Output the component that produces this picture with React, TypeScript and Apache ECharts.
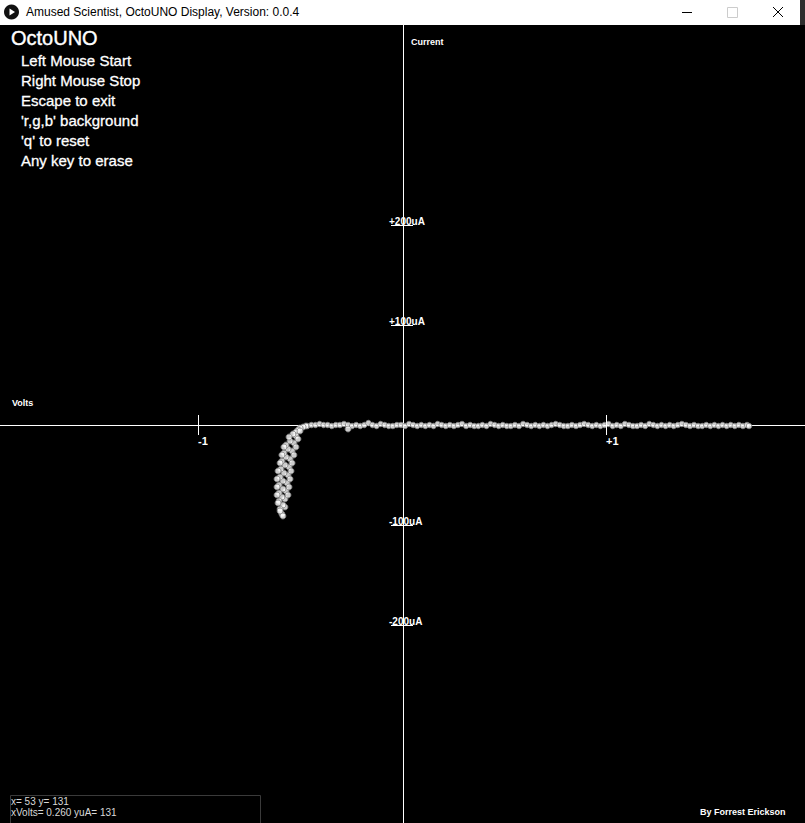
import React, { useEffect, useRef } from 'react';
import * as echarts from 'echarts';

// Forward sweep along the flat part of the I-V curve: [volts, microamps]
const flatSweep: [number, number][] = [
  [-0.47, -1], [-0.45, 0], [-0.43, 0], [-0.41, 1], [-0.39, 0], [-0.37, 0], [-0.35, -1], [-0.33, 0],
  [-0.31, 0], [-0.29, 1], [-0.27, 0], [-0.25, -1], [-0.23, 0], [-0.21, -1], [-0.19, 0], [-0.17, 2],
  [-0.15, 0], [-0.13, -1], [-0.11, 1], [-0.09, 0], [-0.07, -1], [-0.05, -1], [-0.03, 0], [-0.01, 0],
  [0.01, -1], [0.03, 1], [0.05, 0], [0.07, -1], [0.09, 0], [0.11, -1], [0.13, 0], [0.15, -1],
  [0.17, 1], [0.19, 0], [0.21, -1], [0.23, 0], [0.25, -1], [0.27, 0], [0.29, 1], [0.31, -1],
  [0.33, 0], [0.35, -1], [0.37, -1], [0.39, 0], [0.41, -1], [0.43, 1], [0.45, 0], [0.47, -1],
  [0.49, 0], [0.51, -1], [0.53, -1], [0.55, 0], [0.57, -1], [0.59, 1], [0.61, 0], [0.63, -1],
  [0.65, 0], [0.67, -1], [0.69, 0], [0.71, -1], [0.73, 0], [0.75, 1], [0.77, 0], [0.79, -1],
  [0.81, -1], [0.83, 0], [0.85, -1], [0.87, 0], [0.89, 1], [0.91, 0], [0.93, -1], [0.95, 0],
  [0.97, -1], [0.99, 0], [1.01, 1], [1.03, -1], [1.05, 0], [1.07, -1], [1.09, 1], [1.11, 0],
  [1.13, -1], [1.15, -1], [1.17, 0], [1.19, -1], [1.21, 1], [1.23, 0], [1.25, -1], [1.27, 0],
  [1.29, -1], [1.31, 0], [1.33, -1], [1.35, 0], [1.37, 1], [1.39, 0], [1.41, -1], [1.43, 0],
  [1.45, -1], [1.47, -1], [1.49, 0], [1.51, -1], [1.53, 0], [1.55, -1], [1.57, 0], [1.59, -1],
  [1.61, 0], [1.63, -1], [1.65, 0], [1.67, -1], [1.69, 0], [1.70, -1],
];

// Reverse-bias knee of the curve (several overlapping sweeps): [volts, microamps]
const kneeSweep: [number, number][] = [
  [-0.477, -1], [-0.491, -2], [-0.506, -3], [-0.516, -5], [-0.526, -7], [-0.526, -11],
  [-0.536, -18], [-0.541, -9], [-0.545, -26], [-0.555, -16], [-0.555, -34], [-0.56, -12],
  [-0.56, -42], [-0.565, -24], [-0.565, -50], [-0.57, -58], [-0.575, -20], [-0.575, -32],
  [-0.575, -66], [-0.58, -40], [-0.58, -74], [-0.58, -82], [-0.585, -28], [-0.585, -48],
  [-0.59, -56], [-0.59, -64], [-0.59, -80], [-0.595, -36], [-0.595, -72], [-0.595, -89],
  [-0.6, -44], [-0.604, -52], [-0.604, -84], [-0.609, -60], [-0.609, -68], [-0.609, -76],
  [-0.585, -22], [-0.595, -30], [-0.604, -38], [-0.614, -46], [-0.619, -54], [-0.619, -62],
  [-0.619, -70], [-0.614, -78], [-0.604, -86], [-0.59, -91],
  [-0.506, -6], [-0.516, -14], [-0.526, -22], [-0.536, -30], [-0.545, -38], [-0.55, -46],
  [-0.555, -54], [-0.56, -62], [-0.565, -70],
  [-0.27, -4],
];

const xTickValues = [-1, 1];
const xTickLabels = ['-1', '+1'];
const yTickValues = [200, 100, -100, -200];
const yTickLabels = ['+200uA', '+100uA', '-100uA', '-200uA'];

const windowTitle = 'Amused Scientist, OctoUNO Display, Version: 0.0.4';
const appTitle = 'OctoUNO';
const menuLines = [
  'Left Mouse Start',
  'Right Mouse Stop',
  'Escape to exit',
  "'r,g,b' background",
  "'q' to reset",
  'Any key to erase',
];
const statusLines = ['x= 53 y= 131', 'xVolts= 0.260 yuA= 131'];
const xAxisName = 'Volts';
const yAxisName = 'Current';
const credit = 'By Forrest Erickson';

const FONT = '"Liberation Sans", Arial, sans-serif';

export default function App() {
  const ref = useRef<HTMLDivElement>(null);

  useEffect(() => {
    document.body.style.margin = '0';
    const chart = echarts.init(ref.current!, null, { renderer: 'svg' });

    const dotStyle = { color: '#ffffff', borderColor: '#7a7a7a', borderWidth: 1 };

    const graphic: any[] = [
      // window title bar
      { type: 'rect', shape: { x: 0, y: 0, width: 805, height: 25 }, style: { fill: '#ffffff' }, z: 100 },
      { type: 'rect', shape: { x: 800, y: 0, width: 5, height: 25 }, style: { fill: '#2e2e2e' }, z: 101 },
      { type: 'circle', shape: { cx: 11.5, cy: 12, r: 7.5 }, style: { fill: '#111111' }, z: 101 },
      { type: 'polygon', shape: { points: [[9.5, 8.5], [9.5, 15.5], [15, 12]] }, style: { fill: '#ffffff' }, z: 102 },
      { type: 'text', x: 26, y: 12, style: { text: windowTitle, fill: '#000000', font: `12px ${FONT}`, textAlign: 'left', textVerticalAlign: 'middle' }, z: 101 },
      { type: 'line', shape: { x1: 682, y1: 12.5, x2: 692, y2: 12.5 }, style: { stroke: '#000000', lineWidth: 1 }, z: 101 },
      { type: 'rect', shape: { x: 727.5, y: 7.5, width: 10, height: 10 }, style: { fill: 'none', stroke: '#cccccc', lineWidth: 1 }, z: 101 },
      { type: 'line', shape: { x1: 773, y1: 7, x2: 783, y2: 17 }, style: { stroke: '#000000', lineWidth: 1 }, z: 101 },
      { type: 'line', shape: { x1: 783, y1: 7, x2: 773, y2: 17 }, style: { stroke: '#000000', lineWidth: 1 }, z: 101 },
      // app texts
      { type: 'text', x: 11, y: 38, style: { text: appTitle, fill: '#ffffff', font: `20px ${FONT}`, textAlign: 'left', textVerticalAlign: 'middle', stroke: '#ffffff', lineWidth: 0.4 }, z: 50 },
      ...menuLines.map((t, i) => ({
        type: 'text', x: 21, y: 60 + i * 20,
        style: { text: t, fill: '#ffffff', font: `15px ${FONT}`, textAlign: 'left', textVerticalAlign: 'middle', stroke: '#ffffff', lineWidth: 0.3 }, z: 50,
      })),
      { type: 'text', x: 12, y: 403, style: { text: xAxisName, fill: '#ffffff', font: `bold 9px ${FONT}`, textAlign: 'left', textVerticalAlign: 'middle' }, z: 50 },
      { type: 'text', x: 411, y: 42, style: { text: yAxisName, fill: '#ffffff', font: `bold 9px ${FONT}`, textAlign: 'left', textVerticalAlign: 'middle' }, z: 50 },
      // status box
      { type: 'rect', shape: { x: 10.5, y: 795.5, width: 250, height: 40 }, style: { fill: 'none', stroke: '#3a3a3a', lineWidth: 1 }, z: 50 },
      ...statusLines.map((t, i) => ({
        type: 'text', x: 11, y: 801.5 + i * 10.5,
        style: { text: t, fill: '#d8d8d8', font: `10px ${FONT}`, textAlign: 'left', textVerticalAlign: 'middle' }, z: 51,
      })),
      { type: 'text', x: 700, y: 811.5, style: { text: credit, fill: '#ffffff', font: `bold 9px ${FONT}`, textAlign: 'left', textVerticalAlign: 'middle' }, z: 50 },
    ];

    chart.setOption({
      animation: false,
      backgroundColor: '#000000',
      grid: { left: 0, top: 25, width: 805, height: 798 },
      xAxis: {
        type: 'value', min: -1.98, max: 1.975,
        axisLine: { show: true, onZero: true, lineStyle: { color: '#ffffff', width: 1 } },
        axisTick: { show: false }, axisLabel: { show: false }, splitLine: { show: false },
      },
      yAxis: {
        type: 'value', min: -398, max: 400,
        axisLine: { show: true, onZero: true, lineStyle: { color: '#ffffff', width: 1 } },
        axisTick: { show: false }, axisLabel: { show: false }, splitLine: { show: false },
      },
      graphic,
      series: [
        {
          type: 'scatter', data: flatSweep, symbol: 'circle', symbolSize: 5.5,
          itemStyle: dotStyle, z: 3,
        },
        {
          type: 'scatter', data: kneeSweep, symbol: 'circle', symbolSize: 6,
          itemStyle: dotStyle, z: 3,
        },
        {
          type: 'custom', clip: false, z: 4,
          data: xTickValues.map((v) => [v, 0]),
          encode: { x: 0, y: 1 },
          renderItem: (params: any, api: any) => {
            const p = api.coord([api.value(0), 0]);
            const x = Math.round(p[0]) - 0.5;
            return {
              type: 'group',
              children: [
                { type: 'line', shape: { x1: x, y1: p[1] - 10, x2: x, y2: p[1] + 10 }, style: { stroke: '#ffffff', lineWidth: 1 } },
                {
                  type: 'text', x: Math.round(p[0]) - 1, y: p[1] + 16,
                  style: { text: xTickLabels[params.dataIndex], fill: '#ffffff', font: `bold 11px ${FONT}`, textAlign: 'left', textVerticalAlign: 'middle' },
                },
              ],
            };
          },
        },
        {
          type: 'custom', clip: false, z: 4,
          data: yTickValues.map((v) => [0, v]),
          encode: { x: 0, y: 1 },
          renderItem: (params: any, api: any) => {
            const p = api.coord([0, api.value(1)]);
            const y = Math.round(p[1]) + 0.5;
            return {
              type: 'group',
              children: [
                { type: 'line', shape: { x1: p[0] - 12, y1: y, x2: p[0] + 10, y2: y }, style: { stroke: '#ffffff', lineWidth: 1 } },
                {
                  type: 'text', x: p[0] - 14, y: p[1] - 3.6,
                  style: { text: yTickLabels[params.dataIndex], fill: '#ffffff', font: `bold 10px ${FONT}`, textAlign: 'left', textVerticalAlign: 'middle' },
                },
              ],
            };
          },
        },
      ],
    });

    return () => chart.dispose();
  }, []);

  return <div ref={ref} style={{ position: 'absolute', left: 0, top: 0, width: 805, height: 823 }} />;
}
